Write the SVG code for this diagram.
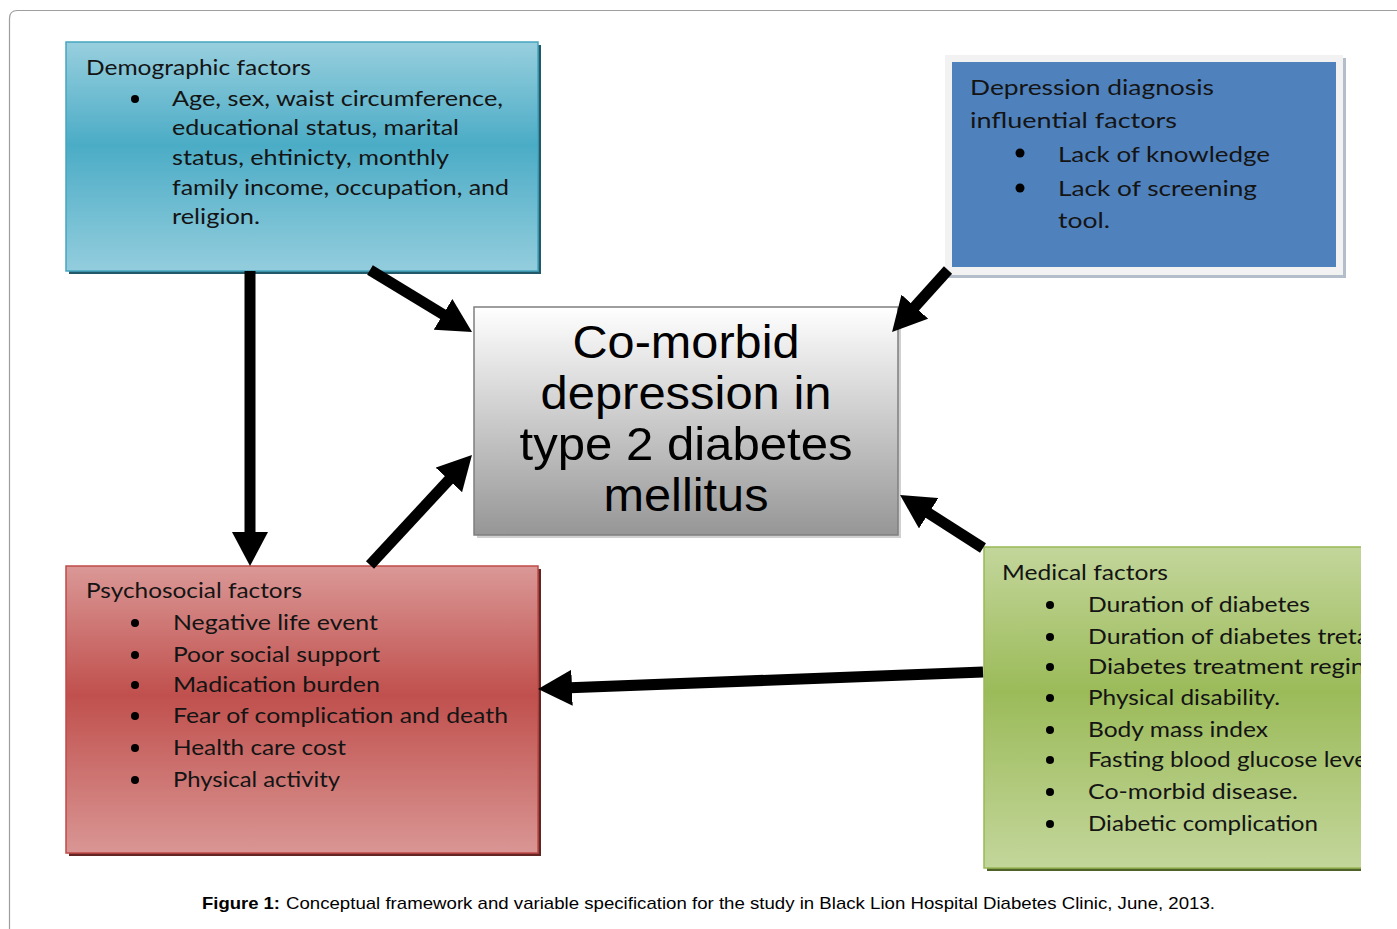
<svg xmlns="http://www.w3.org/2000/svg" width="1397" height="929" viewBox="0 0 1397 929">
<style>
.t{font-family:Lato,"Open Sans","Liberation Sans",sans-serif;font-size:21px;fill:#141414}
.td{font-family:Lato,"Open Sans","Liberation Sans",sans-serif;font-size:22px;fill:#141414}
.c{font-family:"Liberation Sans",Arial,sans-serif;font-size:47px;fill:#000;text-anchor:middle}
.cap{font-family:"Liberation Sans",Arial,sans-serif;font-size:17px;fill:#000}
.b{fill:#000}
.conn line{stroke:#000;stroke-width:11;marker-end:url(#ah)}
</style>
<defs>
<marker id="ah" markerUnits="userSpaceOnUse" markerWidth="36" markerHeight="36" viewBox="0 0 36 36" refX="2" refY="18" orient="auto">
<path d="M0,0 L34,18 L0,36 z" fill="#000"/>
</marker>
<linearGradient id="gTeal" x1="0" y1="0" x2="0" y2="1">
<stop offset="0" stop-color="#98CFDE"/><stop offset="0.45" stop-color="#4BACC6"/><stop offset="1" stop-color="#93CDDD"/>
</linearGradient>
<linearGradient id="gRed" x1="0" y1="0" x2="0" y2="1">
<stop offset="0" stop-color="#DA9896"/><stop offset="0.45" stop-color="#C0504D"/><stop offset="1" stop-color="#D99694"/>
</linearGradient>
<linearGradient id="gGreen" x1="0" y1="0" x2="0" y2="1">
<stop offset="0" stop-color="#C3D69B"/><stop offset="0.45" stop-color="#9BBB59"/><stop offset="1" stop-color="#C3D69B"/>
</linearGradient>
<linearGradient id="gGray" x1="0" y1="0" x2="0" y2="1">
<stop offset="0" stop-color="#FFFFFF"/><stop offset="1" stop-color="#969696"/>
</linearGradient>
<clipPath id="clipMed"><rect x="980" y="540" width="381" height="340"/></clipPath>
</defs>
<rect x="0" y="0" width="1397" height="929" fill="#fff"/>
<path d="M9.5,929 V18.5 Q9.5,10.5 17.5,10.5 H1397" fill="none" stroke="#9E9E9E" stroke-width="1.2"/>

<g id="demographic">
<rect x="69" y="45" width="472" height="229" fill="#215968"/>
<rect x="66" y="42" width="472" height="229" fill="url(#gTeal)" stroke="#46A5BF" stroke-width="1.5"/>
<text class="t" x="86" y="75" textLength="225" lengthAdjust="spacingAndGlyphs">Demographic factors</text>
<circle class="b" cx="135" cy="99" r="4"/>
<text class="t" x="172" y="106" textLength="331" lengthAdjust="spacingAndGlyphs">Age, sex, waist circumference,</text>
<text class="t" x="172" y="135" textLength="287" lengthAdjust="spacingAndGlyphs">educational status, marital</text>
<text class="t" x="172" y="165" textLength="277" lengthAdjust="spacingAndGlyphs">status, ehtinicty, monthly</text>
<text class="t" x="172" y="195" textLength="337" lengthAdjust="spacingAndGlyphs">family income, occupation, and</text>
<text class="t" x="172" y="224" textLength="88" lengthAdjust="spacingAndGlyphs">religion.</text>
</g>

<g id="depression">
<rect x="948" y="58" width="398" height="220" fill="#B4BDCA"/>
<rect x="945" y="55" width="398" height="220" fill="#F2F2F2"/>
<rect x="952" y="62" width="384" height="205" fill="#4F81BD"/>
<text class="td" x="970" y="95" textLength="244" lengthAdjust="spacingAndGlyphs">Depression diagnosis</text>
<text class="td" x="970" y="128" textLength="207" lengthAdjust="spacingAndGlyphs">influential factors</text>
<circle class="b" cx="1020" cy="153" r="4.5"/>
<text class="td" x="1058" y="162" textLength="212" lengthAdjust="spacingAndGlyphs">Lack of knowledge</text>
<circle class="b" cx="1020" cy="188" r="4.5"/>
<text class="td" x="1058" y="196" textLength="199" lengthAdjust="spacingAndGlyphs">Lack of screening</text>
<text class="td" x="1058" y="228" textLength="52" lengthAdjust="spacingAndGlyphs">tool.</text>
</g>

<g id="center">
<rect x="477" y="310" width="424" height="228" fill="#D0D0D0"/>
<rect x="474" y="307" width="424" height="228" fill="url(#gGray)" stroke="#7F7F7F" stroke-width="1.5"/>
<text class="c" x="686" y="358" textLength="227" lengthAdjust="spacingAndGlyphs">Co-morbid</text>
<text class="c" x="686" y="409" textLength="291" lengthAdjust="spacingAndGlyphs">depression in</text>
<text class="c" x="686" y="460" textLength="333" lengthAdjust="spacingAndGlyphs">type 2 diabetes</text>
<text class="c" x="686" y="511" textLength="165" lengthAdjust="spacingAndGlyphs">mellitus</text>
</g>

<g id="psychosocial">
<rect x="69" y="569" width="472" height="287" fill="#632523"/>
<rect x="66" y="566" width="472" height="287" fill="url(#gRed)" stroke="#BE4B48" stroke-width="1.5"/>
<text class="t" x="86" y="598" textLength="216" lengthAdjust="spacingAndGlyphs">Psychosocial factors</text>
<circle class="b" cx="135" cy="623" r="4"/>
<text class="t" x="173" y="630" textLength="205" lengthAdjust="spacingAndGlyphs">Negative life event</text>
<circle class="b" cx="135" cy="655" r="4"/>
<text class="t" x="173" y="662" textLength="207" lengthAdjust="spacingAndGlyphs">Poor social support</text>
<circle class="b" cx="135" cy="685" r="4"/>
<text class="t" x="173" y="692" textLength="207" lengthAdjust="spacingAndGlyphs">Madication burden</text>
<circle class="b" cx="135" cy="716" r="4"/>
<text class="t" x="173" y="723" textLength="335" lengthAdjust="spacingAndGlyphs">Fear of complication and death</text>
<circle class="b" cx="135" cy="748" r="4"/>
<text class="t" x="173" y="755" textLength="173" lengthAdjust="spacingAndGlyphs">Health care cost</text>
<circle class="b" cx="135" cy="780" r="4"/>
<text class="t" x="173" y="787" textLength="167" lengthAdjust="spacingAndGlyphs">Physical activity</text>
</g>

<g id="medical" clip-path="url(#clipMed)">
<rect x="987" y="550" width="400" height="321" fill="#4F6228"/>
<rect x="984" y="547" width="400" height="321" fill="url(#gGreen)" stroke="#98B954" stroke-width="1.5"/>
<text class="t" x="1002" y="580" textLength="166" lengthAdjust="spacingAndGlyphs">Medical factors</text>
<circle class="b" cx="1050" cy="605" r="4"/>
<text class="t" x="1088" y="612" textLength="222" lengthAdjust="spacingAndGlyphs">Duration of diabetes</text>
<circle class="b" cx="1050" cy="637" r="4"/>
<text class="t" x="1088" y="644" textLength="281" lengthAdjust="spacingAndGlyphs">Duration of diabetes treta</text>
<circle class="b" cx="1050" cy="667" r="4"/>
<text class="t" x="1088" y="674" textLength="277" lengthAdjust="spacingAndGlyphs">Diabetes treatment regin</text>
<circle class="b" cx="1050" cy="698" r="4"/>
<text class="t" x="1088" y="705" textLength="192" lengthAdjust="spacingAndGlyphs">Physical disability.</text>
<circle class="b" cx="1050" cy="730" r="4"/>
<text class="t" x="1088" y="737" textLength="180" lengthAdjust="spacingAndGlyphs">Body mass index</text>
<circle class="b" cx="1050" cy="760" r="4"/>
<text class="t" x="1088" y="767" textLength="279" lengthAdjust="spacingAndGlyphs">Fasting blood glucose leve</text>
<circle class="b" cx="1050" cy="792" r="4"/>
<text class="t" x="1088" y="799" textLength="210" lengthAdjust="spacingAndGlyphs">Co-morbid disease.</text>
<circle class="b" cx="1050" cy="824" r="4"/>
<text class="t" x="1088" y="831" textLength="230" lengthAdjust="spacingAndGlyphs">Diabetic complication</text>
</g>

<g id="connectors" class="conn">
<line x1="250" y1="271" x2="250" y2="534"/>
<line x1="370" y1="270" x2="444.7" y2="315.4"/>
<line x1="370" y1="565" x2="450.2" y2="478.5"/>
<line x1="948" y1="270" x2="913.5" y2="308.2"/>
<line x1="983" y1="548" x2="927" y2="512.2"/>
<line x1="983" y1="672" x2="570" y2="687.8"/>
</g>

<g id="caption">
<text class="cap" x="202" y="909" font-weight="bold" textLength="78" lengthAdjust="spacingAndGlyphs">Figure 1:</text>
<text class="cap" x="286" y="909" textLength="929" lengthAdjust="spacingAndGlyphs">Conceptual framework and variable specification for the study in Black Lion Hospital Diabetes Clinic, June, 2013.</text>
</g>
</svg>
